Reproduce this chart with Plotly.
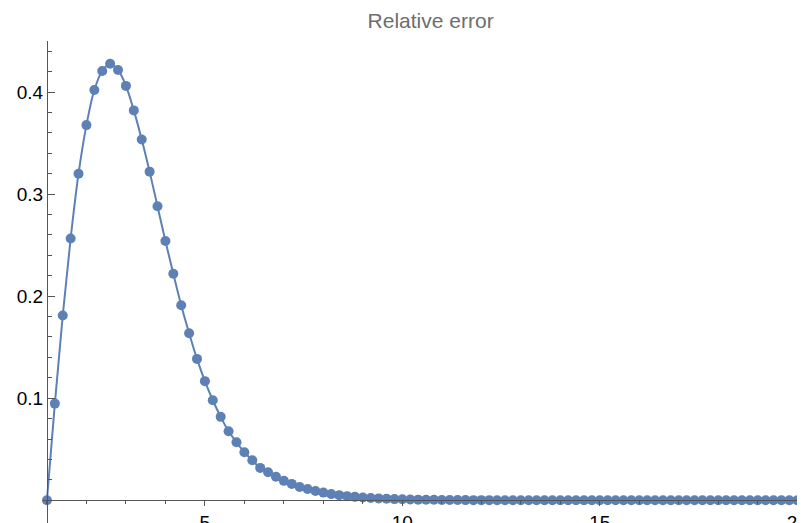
import plotly.graph_objects as go

# sample points, n = 1.0 .. 20.0 in steps of 0.2
x_values = [round(1 + 0.2 * i, 1) for i in range(96)]
y_values = [
    0.0, 0.0947, 0.181, 0.2565, 0.320, 0.3676, 0.402, 0.4206, 0.4277, 0.4216,
    0.406, 0.382, 0.3535, 0.322, 0.288, 0.254, 0.222, 0.191, 0.1637, 0.1385,
    0.1167, 0.098, 0.0817, 0.0676, 0.0569, 0.047, 0.0392, 0.0317, 0.0275, 0.023,
    0.019, 0.016, 0.013, 0.011, 0.009, 0.0075, 0.006, 0.005, 0.004, 0.0033,
    0.0027, 0.0022, 0.0018, 0.0014, 0.0011, 0.0009, 0.0007, 0.0006, 0.0005, 0.0004,
    0.0003, 0.00025, 0.0002, 0.00015, 0.0001, 0.0001, 0.00008, 0.00006, 0.00005, 0.00004,
    0.00003, 0.00002, 0.00002, 0.00001, 0.00001, 0.00001, 0.0, 0.0, 0.0, 0.0,
    0.0, 0.0, 0.0, 0.0, 0.0, 0.0, 0.0, 0.0, 0.0, 0.0,
    0.0, 0.0, 0.0, 0.0, 0.0, 0.0, 0.0, 0.0, 0.0, 0.0,
    0.0, 0.0, 0.0, 0.0, 0.0, 0.0,
]

LINE_COLOUR = '#5E81B5'
AXIS_COLOUR = '#555555'

fig = go.Figure(go.Scatter(
    x=x_values, y=y_values, mode='lines+markers',
    line=dict(color=LINE_COLOUR, width=2, shape='spline'),
    marker=dict(color=LINE_COLOUR, size=10),
    cliponaxis=False,
))

x_range = [0.9, 20.4]
y_range = [-0.0223, 0.450]

fig.update_layout(
    width=805, height=523,
    margin=dict(l=35, r=0, t=33, b=8, autoexpand=False),
    plot_bgcolor='white', paper_bgcolor='white',
    showlegend=False,
    title=dict(text='Relative error', x=0.525, xanchor='center', y=0.99, yanchor='top',
               font=dict(family='Liberation Sans, Arial', size=21, color='#6e6e6e')),
    font=dict(family='Liberation Sans, Arial', size=19, color='black'),
)
fig.update_xaxes(
    range=x_range, showgrid=False, zeroline=False, automargin=False,
    anchor='free', position=(0 - y_range[0]) / (y_range[1] - y_range[0]),
    showline=True, linecolor=AXIS_COLOUR, linewidth=1,
    tickvals=[5, 10, 15, 20], ticks='outside', ticklen=5, tickcolor=AXIS_COLOUR,
    minor=dict(tickvals=list(range(1, 21)), ticks='outside', ticklen=3, tickcolor=AXIS_COLOUR),
)
fig.update_yaxes(
    range=y_range, showgrid=False, zeroline=False, automargin=False,
    anchor='free', position=(1 - x_range[0]) / (x_range[1] - x_range[0]),
    showline=True, linecolor=AXIS_COLOUR, linewidth=1,
    tickvals=[0.1, 0.2, 0.3, 0.4], ticks='inside', ticklen=7, tickcolor=AXIS_COLOUR,
    minor=dict(tickvals=[i * 0.02 for i in range(1, 23)], ticks='inside', ticklen=4,
               tickcolor=AXIS_COLOUR),
)

fig.write_html('out.html')
